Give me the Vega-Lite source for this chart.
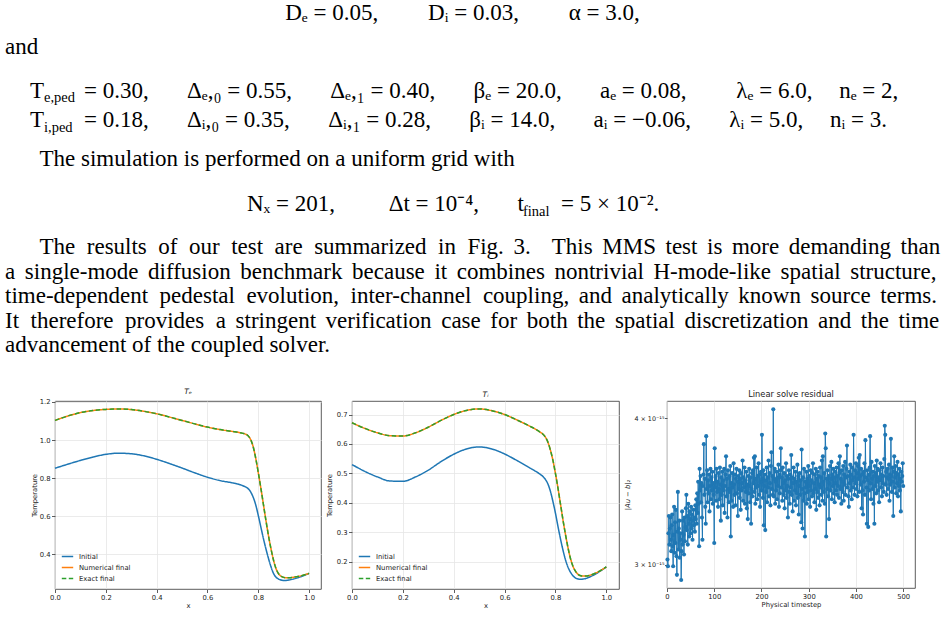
{
  "$schema": "https://vega.github.io/schema/vega-lite/v6.json",
  "padding": 0,
  "background": "white",
  "autosize": {"type": "pad"},
  "config": {
    "font": "DejaVu Sans",
    "view": {"stroke": null},
    "axis": {"labelFont": "DejaVu Sans", "labelFontSize": 6.8, "labelColor": "#222", "titleFont": "DejaVu Sans", "titleFontSize": 6.8, "titleFontWeight": "normal", "titleColor": "#222", "tickColor": "#333", "tickSize": 3.5, "tickWidth": 0.8, "domain": false, "gridColor": "#e6e6e6", "gridWidth": 0.8, "labelPadding": 1.5, "titlePadding": 1.5, "labelFlush": false, "labelOverlap": false},
    "title": {"font": "DejaVu Sans", "fontWeight": "normal", "color": "#222", "offset": 3},
    "legend": {"orient": "bottom-left", "offset": 4, "padding": 2, "labelFont": "DejaVu Sans", "labelFontSize": 6.8, "labelColor": "#222", "symbolType": "stroke", "symbolStrokeWidth": 1.5, "symbolSize": 130, "rowPadding": -1, "labelOffset": 5}
  },
  "vconcat": [
    {
      "width": 947, "height": 40,
      "data": {"values": [{"txt": "Dₑ = 0.05,\u2003\u2003\u2006Dᵢ = 0.03,\u2003\u2003\u2006α = 3.0,"}]},
      "mark": {"type": "text", "font": "Liberation Serif", "fontSize": 23, "align": "center", "baseline": "alphabetic", "color": "#000", "dx": -11},
      "encoding": {"text": {"field": "txt"}}
    },
    {
      "width": 947, "height": 43,
      "data": {"values": [{"txt": "and"}]},
      "mark": {"type": "text", "font": "Liberation Serif", "fontSize": 23, "align": "left", "baseline": "alphabetic", "color": "#000", "dx": 5, "dy": -7.5},
      "encoding": {"x": {"datum": 0, "type": "quantitative", "scale": {"domain": [0, 1]}, "axis": null}, "text": {"field": "txt"}}
    },
    {
      "width": 947, "height": 59,
      "data": {"values": [
        {"ln": 0, "b": "T", "s": "e,ped", "r": "= 0.30,\u2003\u2002\u2006Δₑ,₀ = 0.55,\u2003\u2002\u2006Δₑ,₁ = 0.40,\u2003\u2002\u2006βₑ = 20.0,\u2003\u2002\u2006aₑ = 0.08,\u2003\u2003\u2006λₑ = 6.0,\u2003\u2006nₑ = 2,"},
        {"ln": 1, "b": "T", "s": "i,ped", "r": "= 0.18,\u2003\u2002\u2006Δᵢ,₀ = 0.35,\u2003\u2002\u2006Δᵢ,₁ = 0.28,\u2003\u2002\u2006βᵢ = 14.0,\u2003\u2002\u2006aᵢ = −0.06,\u2003\u2002\u2006λᵢ = 5.0,\u2003\u2006nᵢ = 3."}
      ]},
      "encoding": {"x": {"datum": 0, "type": "quantitative", "scale": {"domain": [0, 1]}, "axis": null}, "y": {"field": "ln", "type": "ordinal", "axis": null}},
      "layer": [
        {
          "mark": {"type": "text", "font": "Liberation Serif", "fontSize": 23, "align": "left", "baseline": "alphabetic", "color": "#000", "dx": 30},
          "encoding": {"text": {"field": "b"}}
        },
        {
          "mark": {"type": "text", "font": "Liberation Serif", "fontSize": 14.5, "align": "left", "baseline": "alphabetic", "color": "#000", "dx": 44, "dy": 4.5},
          "encoding": {"text": {"field": "s"}}
        },
        {
          "mark": {"type": "text", "font": "Liberation Serif", "fontSize": 23, "align": "left", "baseline": "alphabetic", "color": "#000", "dx": 84},
          "encoding": {"text": {"field": "r"}}
        }
      ]
    },
    {
      "width": 947, "height": 46,
      "data": {"values": [{"txt": "\u200D\u2003\u2002The simulation is performed on a uniform grid with"}]},
      "mark": {"type": "text", "font": "Liberation Serif", "fontSize": 23, "align": "left", "baseline": "alphabetic", "color": "#000", "dx": 5, "dy": 1},
      "encoding": {"x": {"datum": 0, "type": "quantitative", "scale": {"domain": [0, 1]}, "axis": null}, "text": {"field": "txt"}}
    },
    {
      "width": 947, "height": 54,
      "data": {"values": [{"a": "Nₓ = 201,\u2003\u2003\u2006\u2006Δt = 10⁻⁴,\u2003\u2002\u2006t", "s": "final", "r": "= 5 × 10⁻²."}]},
      "encoding": {"x": {"datum": 0, "type": "quantitative", "scale": {"domain": [0, 1]}, "axis": null}},
      "layer": [
        {
          "mark": {"type": "text", "font": "Liberation Serif", "fontSize": 23, "align": "left", "baseline": "alphabetic", "color": "#000", "dx": 247, "dy": -4},
          "encoding": {"text": {"field": "a"}}
        },
        {
          "mark": {"type": "text", "font": "Liberation Serif", "fontSize": 14.5, "align": "left", "baseline": "alphabetic", "color": "#000", "dx": 523, "dy": 0.5},
          "encoding": {"text": {"field": "s"}}
        },
        {
          "mark": {"type": "text", "font": "Liberation Serif", "fontSize": 23, "align": "left", "baseline": "alphabetic", "color": "#000", "dx": 561, "dy": -4},
          "encoding": {"text": {"field": "r"}}
        }
      ]
    },
    {
      "width": 947, "height": 122.5,
      "data": {"values": [
        {"ln": 0, "txt": "\u200D\u2003\u2002The\u2002results\u2002of\u2002our\u2002test\u2002are\u2002summarized\u2002in\u2002Fig. \u20063.\u2002 \u2006This \u2006MMS \u2006test \u2006is \u2006more \u2006demanding \u2006than"},
        {"ln": 1, "txt": "a \u2006single-mode \u2006diffusion \u2006benchmark \u2006because \u2006it \u2006combines \u2006nontrivial \u2006H-mode-like \u2006spatial \u2006structure,"},
        {"ln": 2, "txt": "time-dependent\u2002pedestal\u2002evolution,\u2002inter-channel\u2002coupling, \u2006and \u2006analytically \u2006known \u2006source \u2006terms."},
        {"ln": 3, "txt": "It\u2002therefore\u2002provides\u2002a \u2006stringent \u2006verification \u2006case \u2006for \u2006both \u2006the \u2006spatial \u2006discretization \u2006and \u2006the \u2006time"},
        {"ln": 4, "txt": "advancement of the coupled solver."}
      ]},
      "mark": {"type": "text", "font": "Liberation Serif", "fontSize": 23, "align": "left", "baseline": "alphabetic", "color": "#000", "dx": 5},
      "encoding": {"x": {"datum": 0, "type": "quantitative", "scale": {"domain": [0, 1]}, "axis": null}, "y": {"field": "ln", "type": "ordinal", "axis": null}, "text": {"field": "txt"}}
    },
    {
      "width": 947, "height": 35.5,
      "data": {"values": []},
      "mark": "point"
    },
    {
      "spacing": 4,
      "resolve": {"scale": {"color": "independent", "strokeDash": "independent"}, "legend": {"color": "independent", "strokeDash": "independent"}},
      "hconcat": [
        {"width": 27, "height": 10, "data": {"values": []}, "mark": "point"},
        {
          "width": 266, "height": 188,
          "title": {"text": "Tₑ", "fontStyle": "italic", "fontSize": 7.5},
          "view": {"stroke": "#333", "strokeWidth": 0.8},
          "data": {"values": [
            {"x": 0, "Initial": 0.852, "Numerical final": 1.103, "Exact final": 1.103},
            {"x": 0.05, "Initial": 0.873, "Numerical final": 1.126, "Exact final": 1.126},
            {"x": 0.1, "Initial": 0.893, "Numerical final": 1.144, "Exact final": 1.144},
            {"x": 0.15, "Initial": 0.911, "Numerical final": 1.155, "Exact final": 1.155},
            {"x": 0.2, "Initial": 0.925, "Numerical final": 1.161, "Exact final": 1.161},
            {"x": 0.25, "Initial": 0.931, "Numerical final": 1.163, "Exact final": 1.163},
            {"x": 0.3, "Initial": 0.928, "Numerical final": 1.160, "Exact final": 1.160},
            {"x": 0.35, "Initial": 0.917, "Numerical final": 1.151, "Exact final": 1.151},
            {"x": 0.4, "Initial": 0.899, "Numerical final": 1.138, "Exact final": 1.138},
            {"x": 0.45, "Initial": 0.877, "Numerical final": 1.121, "Exact final": 1.121},
            {"x": 0.5, "Initial": 0.853, "Numerical final": 1.103, "Exact final": 1.103},
            {"x": 0.55, "Initial": 0.828, "Numerical final": 1.085, "Exact final": 1.085},
            {"x": 0.6, "Initial": 0.805, "Numerical final": 1.068, "Exact final": 1.068},
            {"x": 0.65, "Initial": 0.787, "Numerical final": 1.055, "Exact final": 1.055},
            {"x": 0.7, "Initial": 0.775, "Numerical final": 1.045, "Exact final": 1.045},
            {"x": 0.72, "Initial": 0.769, "Numerical final": 1.041, "Exact final": 1.041},
            {"x": 0.74, "Initial": 0.760, "Numerical final": 1.035, "Exact final": 1.035},
            {"x": 0.75, "Initial": 0.754, "Numerical final": 1.031, "Exact final": 1.031},
            {"x": 0.76, "Initial": 0.745, "Numerical final": 1.022, "Exact final": 1.022},
            {"x": 0.77, "Initial": 0.728, "Numerical final": 1.003, "Exact final": 1.003},
            {"x": 0.78, "Initial": 0.700, "Numerical final": 0.965, "Exact final": 0.965},
            {"x": 0.79, "Initial": 0.660, "Numerical final": 0.905, "Exact final": 0.905},
            {"x": 0.80, "Initial": 0.605, "Numerical final": 0.830, "Exact final": 0.830},
            {"x": 0.81, "Initial": 0.545, "Numerical final": 0.750, "Exact final": 0.750},
            {"x": 0.82, "Initial": 0.485, "Numerical final": 0.665, "Exact final": 0.665},
            {"x": 0.83, "Initial": 0.430, "Numerical final": 0.580, "Exact final": 0.580},
            {"x": 0.84, "Initial": 0.380, "Numerical final": 0.500, "Exact final": 0.500},
            {"x": 0.85, "Initial": 0.335, "Numerical final": 0.430, "Exact final": 0.430},
            {"x": 0.86, "Initial": 0.300, "Numerical final": 0.370, "Exact final": 0.370},
            {"x": 0.87, "Initial": 0.280, "Numerical final": 0.325, "Exact final": 0.325},
            {"x": 0.88, "Initial": 0.270, "Numerical final": 0.298, "Exact final": 0.298},
            {"x": 0.89, "Initial": 0.265, "Numerical final": 0.285, "Exact final": 0.285},
            {"x": 0.90, "Initial": 0.263, "Numerical final": 0.279, "Exact final": 0.279},
            {"x": 0.91, "Initial": 0.263, "Numerical final": 0.277, "Exact final": 0.277},
            {"x": 0.92, "Initial": 0.265, "Numerical final": 0.277, "Exact final": 0.277},
            {"x": 0.94, "Initial": 0.271, "Numerical final": 0.280, "Exact final": 0.280},
            {"x": 0.96, "Initial": 0.279, "Numerical final": 0.285, "Exact final": 0.285},
            {"x": 0.98, "Initial": 0.289, "Numerical final": 0.292, "Exact final": 0.292},
            {"x": 1.0, "Initial": 0.300, "Numerical final": 0.300, "Exact final": 0.300}
          ]},
          "transform": [{"fold": ["Initial", "Numerical final", "Exact final"], "as": ["series", "v"]}],
          "mark": {"type": "line", "strokeWidth": 1.5, "interpolate": "monotone"},
          "encoding": {
            "x": {"field": "x", "type": "quantitative", "scale": {"domain": [0, 1.047], "nice": false}, "axis": {"values": [0, 0.2, 0.4, 0.6, 0.8, 1.0], "format": ".1f", "title": "x", "grid": true}},
            "y": {"field": "v", "type": "quantitative", "scale": {"domain": [0.218, 1.205], "nice": false, "zero": false}, "axis": {"values": [0.4, 0.6, 0.8, 1.0, 1.2], "format": ".1f", "title": "Temperature", "grid": true}},
            "color": {"field": "series", "type": "nominal", "scale": {"domain": ["Initial", "Numerical final", "Exact final"], "range": ["#1f77b4", "#ff7f0e", "#2ca02c"]}, "legend": {"title": null}},
            "strokeDash": {"field": "series", "type": "nominal", "scale": {"domain": ["Initial", "Numerical final", "Exact final"], "range": [[1, 0], [1, 0], [4.5, 2.5]]}, "legend": {"title": null}}
          }
        },
        {
          "width": 267, "height": 188,
          "title": {"text": "Tᵢ", "fontStyle": "italic", "fontSize": 7.5},
          "view": {"stroke": "#333", "strokeWidth": 0.8},
          "data": {"values": [
            {"x": 0, "Initial": 0.530, "Numerical final": 0.672, "Exact final": 0.672},
            {"x": 0.05, "Initial": 0.507, "Numerical final": 0.653, "Exact final": 0.653},
            {"x": 0.1, "Initial": 0.488, "Numerical final": 0.638, "Exact final": 0.638},
            {"x": 0.15, "Initial": 0.474, "Numerical final": 0.628, "Exact final": 0.628},
            {"x": 0.2, "Initial": 0.473, "Numerical final": 0.627, "Exact final": 0.627},
            {"x": 0.25, "Initial": 0.488, "Numerical final": 0.638, "Exact final": 0.638},
            {"x": 0.3, "Initial": 0.511, "Numerical final": 0.657, "Exact final": 0.657},
            {"x": 0.35, "Initial": 0.540, "Numerical final": 0.680, "Exact final": 0.680},
            {"x": 0.4, "Initial": 0.565, "Numerical final": 0.700, "Exact final": 0.700},
            {"x": 0.45, "Initial": 0.583, "Numerical final": 0.714, "Exact final": 0.714},
            {"x": 0.5, "Initial": 0.590, "Numerical final": 0.719, "Exact final": 0.719},
            {"x": 0.55, "Initial": 0.583, "Numerical final": 0.713, "Exact final": 0.713},
            {"x": 0.6, "Initial": 0.566, "Numerical final": 0.700, "Exact final": 0.700},
            {"x": 0.65, "Initial": 0.543, "Numerical final": 0.681, "Exact final": 0.681},
            {"x": 0.7, "Initial": 0.518, "Numerical final": 0.660, "Exact final": 0.660},
            {"x": 0.72, "Initial": 0.508, "Numerical final": 0.651, "Exact final": 0.651},
            {"x": 0.74, "Initial": 0.497, "Numerical final": 0.640, "Exact final": 0.640},
            {"x": 0.75, "Initial": 0.490, "Numerical final": 0.634, "Exact final": 0.634},
            {"x": 0.76, "Initial": 0.480, "Numerical final": 0.624, "Exact final": 0.624},
            {"x": 0.77, "Initial": 0.465, "Numerical final": 0.607, "Exact final": 0.607},
            {"x": 0.78, "Initial": 0.440, "Numerical final": 0.580, "Exact final": 0.580},
            {"x": 0.79, "Initial": 0.405, "Numerical final": 0.545, "Exact final": 0.545},
            {"x": 0.80, "Initial": 0.365, "Numerical final": 0.500, "Exact final": 0.500},
            {"x": 0.81, "Initial": 0.320, "Numerical final": 0.450, "Exact final": 0.450},
            {"x": 0.82, "Initial": 0.277, "Numerical final": 0.395, "Exact final": 0.395},
            {"x": 0.83, "Initial": 0.238, "Numerical final": 0.340, "Exact final": 0.340},
            {"x": 0.84, "Initial": 0.205, "Numerical final": 0.290, "Exact final": 0.290},
            {"x": 0.85, "Initial": 0.180, "Numerical final": 0.245, "Exact final": 0.245},
            {"x": 0.86, "Initial": 0.163, "Numerical final": 0.208, "Exact final": 0.208},
            {"x": 0.87, "Initial": 0.151, "Numerical final": 0.182, "Exact final": 0.182},
            {"x": 0.88, "Initial": 0.144, "Numerical final": 0.166, "Exact final": 0.166},
            {"x": 0.89, "Initial": 0.141, "Numerical final": 0.156, "Exact final": 0.156},
            {"x": 0.90, "Initial": 0.140, "Numerical final": 0.152, "Exact final": 0.152},
            {"x": 0.91, "Initial": 0.141, "Numerical final": 0.151, "Exact final": 0.151},
            {"x": 0.92, "Initial": 0.143, "Numerical final": 0.151, "Exact final": 0.151},
            {"x": 0.94, "Initial": 0.150, "Numerical final": 0.155, "Exact final": 0.155},
            {"x": 0.96, "Initial": 0.159, "Numerical final": 0.162, "Exact final": 0.162},
            {"x": 0.98, "Initial": 0.170, "Numerical final": 0.171, "Exact final": 0.171},
            {"x": 1.0, "Initial": 0.182, "Numerical final": 0.182, "Exact final": 0.182}
          ]},
          "transform": [{"fold": ["Initial", "Numerical final", "Exact final"], "as": ["series", "v"]}],
          "mark": {"type": "line", "strokeWidth": 1.5, "interpolate": "monotone"},
          "encoding": {
            "x": {"field": "x", "type": "quantitative", "scale": {"domain": [0, 1.05], "nice": false}, "axis": {"values": [0, 0.2, 0.4, 0.6, 0.8, 1.0], "format": ".1f", "title": "x", "grid": true}},
            "y": {"field": "v", "type": "quantitative", "scale": {"domain": [0.107, 0.746], "nice": false, "zero": false}, "axis": {"values": [0.2, 0.3, 0.4, 0.5, 0.6, 0.7], "format": ".1f", "title": "Temperature", "grid": true, "titlePadding": 3.2}},
            "color": {"field": "series", "type": "nominal", "scale": {"domain": ["Initial", "Numerical final", "Exact final"], "range": ["#1f77b4", "#ff7f0e", "#2ca02c"]}, "legend": {"title": null}},
            "strokeDash": {"field": "series", "type": "nominal", "scale": {"domain": ["Initial", "Numerical final", "Exact final"], "range": [[1, 0], [1, 0], [4.5, 2.5]]}, "legend": {"title": null}}
          }
        },
        {
          "width": 248, "height": 187,
          "title": {"text": "Linear solve residual", "fontSize": 8.3},
          "view": {"stroke": "#333", "strokeWidth": 0.8},
          "data": {"values": [
{"t":1,"r":3.03e-15},{"t":2,"r":2.99e-15},{"t":3,"r":3.19e-15},{"t":4,"r":3.30e-15},{"t":5,"r":3.12e-15},{"t":6,"r":3.22e-15},{"t":7,"r":3.29e-15},{"t":8,"r":3.15e-15},{"t":9,"r":3.08e-15},{"t":10,"r":3.24e-15},
{"t":11,"r":3.31e-15},{"t":12,"r":3.11e-15},{"t":13,"r":2.99e-15},{"t":14,"r":3.18e-15},{"t":15,"r":3.36e-15},{"t":16,"r":3.07e-15},{"t":17,"r":3.26e-15},{"t":18,"r":3.13e-15},{"t":19,"r":3.34e-15},{"t":20,"r":3.05e-15},
{"t":21,"r":2.94e-15},{"t":22,"r":3.20e-15},{"t":23,"r":3.46e-15},{"t":24,"r":3.09e-15},{"t":25,"r":3.22e-15},{"t":26,"r":3.27e-15},{"t":27,"r":3.04e-15},{"t":28,"r":3.19e-15},{"t":29,"r":3.15e-15},{"t":30,"r":2.91e-15},
{"t":31,"r":3.08e-15},{"t":32,"r":3.33e-15},{"t":33,"r":3.12e-15},{"t":34,"r":3.27e-15},{"t":35,"r":3.18e-15},{"t":36,"r":3.06e-15},{"t":37,"r":3.29e-15},{"t":38,"r":3.14e-15},{"t":39,"r":3.23e-15},{"t":40,"r":3.35e-15},
{"t":41,"r":3.44e-15},{"t":42,"r":3.21e-15},{"t":43,"r":3.30e-15},{"t":44,"r":3.12e-15},{"t":45,"r":3.38e-15},{"t":46,"r":3.25e-15},{"t":47,"r":3.17e-15},{"t":48,"r":3.33e-15},{"t":49,"r":3.28e-15},{"t":50,"r":3.19e-15},
{"t":51,"r":3.36e-15},{"t":52,"r":3.22e-15},{"t":53,"r":3.31e-15},{"t":54,"r":3.15e-15},{"t":55,"r":3.27e-15},{"t":56,"r":3.34e-15},{"t":57,"r":3.24e-15},{"t":58,"r":3.29e-15},{"t":59,"r":3.20e-15},{"t":60,"r":3.37e-15},
{"t":61,"r":3.28e-15},{"t":62,"r":3.41e-15},{"t":63,"r":3.25e-15},{"t":64,"r":3.45e-15},{"t":65,"r":3.32e-15},{"t":66,"r":3.53e-15},{"t":67,"r":3.38e-15},{"t":68,"r":3.11e-15},{"t":69,"r":3.62e-15},{"t":70,"r":3.47e-15},
{"t":71,"r":3.57e-15},{"t":72,"r":3.39e-15},{"t":73,"r":3.52e-15},{"t":74,"r":3.29e-15},{"t":75,"r":3.15e-15},{"t":76,"r":3.50e-15},{"t":77,"r":3.58e-15},{"t":78,"r":3.80e-15},{"t":79,"r":3.44e-15},{"t":80,"r":3.55e-15},
{"t":81,"r":3.36e-15},{"t":82,"r":3.25e-15},{"t":83,"r":3.86e-15},{"t":84,"r":3.48e-15},{"t":85,"r":3.61e-15},{"t":86,"r":3.39e-15},{"t":87,"r":3.54e-15},{"t":88,"r":3.45e-15},{"t":89,"r":3.58e-15},{"t":90,"r":3.33e-15},
{"t":91,"r":3.50e-15},{"t":92,"r":3.62e-15},{"t":93,"r":3.41e-15},{"t":94,"r":3.56e-15},{"t":95,"r":3.47e-15},{"t":96,"r":3.60e-15},{"t":97,"r":3.38e-15},{"t":98,"r":3.52e-15},{"t":99,"r":3.44e-15},{"t":100,"r":3.13e-15},
{"t":101,"r":3.77e-15},{"t":102,"r":3.49e-15},{"t":103,"r":3.57e-15},{"t":104,"r":3.40e-15},{"t":105,"r":3.62e-15},{"t":106,"r":3.46e-15},{"t":107,"r":3.53e-15},{"t":108,"r":3.36e-15},{"t":109,"r":3.59e-15},{"t":110,"r":3.48e-15},
{"t":111,"r":3.41e-15},{"t":112,"r":3.63e-15},{"t":113,"r":3.51e-15},{"t":114,"r":3.27e-15},{"t":115,"r":3.56e-15},{"t":116,"r":3.44e-15},{"t":117,"r":3.60e-15},{"t":118,"r":3.37e-15},{"t":119,"r":3.54e-15},{"t":120,"r":3.47e-15},
{"t":121,"r":3.62e-15},{"t":122,"r":3.32e-15},{"t":123,"r":3.50e-15},{"t":124,"r":3.58e-15},{"t":125,"r":3.71e-15},{"t":126,"r":3.43e-15},{"t":127,"r":3.55e-15},{"t":128,"r":3.29e-15},{"t":129,"r":3.61e-15},{"t":130,"r":3.48e-15},
{"t":131,"r":3.39e-15},{"t":132,"r":3.57e-15},{"t":133,"r":3.46e-15},{"t":134,"r":3.64e-15},{"t":135,"r":3.17e-15},{"t":136,"r":3.52e-15},{"t":137,"r":3.40e-15},{"t":138,"r":3.59e-15},{"t":139,"r":3.49e-15},{"t":140,"r":3.36e-15},
{"t":141,"r":3.66e-15},{"t":142,"r":3.51e-15},{"t":143,"r":3.44e-15},{"t":144,"r":3.58e-15},{"t":145,"r":3.37e-15},{"t":146,"r":3.55e-15},{"t":147,"r":3.62e-15},{"t":148,"r":3.45e-15},{"t":149,"r":3.53e-15},{"t":150,"r":3.30e-15},
{"t":151,"r":3.57e-15},{"t":152,"r":3.48e-15},{"t":153,"r":3.61e-15},{"t":154,"r":3.42e-15},{"t":155,"r":3.55e-15},{"t":156,"r":3.34e-15},{"t":157,"r":3.59e-15},{"t":158,"r":3.47e-15},{"t":159,"r":3.52e-15},{"t":160,"r":3.68e-15},
{"t":161,"r":3.40e-15},{"t":162,"r":3.56e-15},{"t":163,"r":3.49e-15},{"t":164,"r":3.63e-15},{"t":165,"r":3.38e-15},{"t":166,"r":3.54e-15},{"t":167,"r":3.46e-15},{"t":168,"r":3.60e-15},{"t":169,"r":3.35e-15},{"t":170,"r":3.51e-15},
{"t":171,"r":3.28e-15},{"t":172,"r":3.57e-15},{"t":173,"r":3.45e-15},{"t":174,"r":3.62e-15},{"t":175,"r":3.50e-15},{"t":176,"r":3.39e-15},{"t":177,"r":3.56e-15},{"t":178,"r":3.25e-15},{"t":179,"r":3.48e-15},{"t":180,"r":3.59e-15},
{"t":181,"r":3.43e-15},{"t":182,"r":3.61e-15},{"t":183,"r":3.52e-15},{"t":184,"r":3.70e-15},{"t":185,"r":3.46e-15},{"t":186,"r":3.71e-15},{"t":187,"r":3.38e-15},{"t":188,"r":3.55e-15},{"t":189,"r":3.49e-15},{"t":190,"r":3.63e-15},
{"t":191,"r":3.41e-15},{"t":192,"r":3.57e-15},{"t":193,"r":3.50e-15},{"t":194,"r":3.66e-15},{"t":195,"r":3.44e-15},{"t":196,"r":3.58e-15},{"t":197,"r":3.36e-15},{"t":198,"r":3.53e-15},{"t":199,"r":3.60e-15},{"t":200,"r":3.47e-15},
{"t":201,"r":3.87e-15},{"t":202,"r":3.55e-15},{"t":203,"r":3.42e-15},{"t":204,"r":3.61e-15},{"t":205,"r":3.24e-15},{"t":206,"r":3.50e-15},{"t":207,"r":3.58e-15},{"t":208,"r":3.21e-15},{"t":209,"r":3.54e-15},{"t":210,"r":3.46e-15},
{"t":211,"r":3.63e-15},{"t":212,"r":3.39e-15},{"t":213,"r":3.56e-15},{"t":214,"r":3.49e-15},{"t":215,"r":3.68e-15},{"t":216,"r":3.43e-15},{"t":217,"r":3.59e-15},{"t":218,"r":3.52e-15},{"t":219,"r":3.37e-15},{"t":220,"r":3.64e-15},
{"t":221,"r":3.74e-15},{"t":222,"r":3.48e-15},{"t":223,"r":3.57e-15},{"t":224,"r":3.44e-15},{"t":225,"r":4.07e-15},{"t":226,"r":3.43e-15},{"t":227,"r":3.55e-15},{"t":228,"r":3.62e-15},{"t":229,"r":3.38e-15},{"t":230,"r":3.53e-15},
{"t":231,"r":3.47e-15},{"t":232,"r":3.60e-15},{"t":233,"r":3.41e-15},{"t":234,"r":3.56e-15},{"t":235,"r":3.50e-15},{"t":236,"r":3.65e-15},{"t":237,"r":3.36e-15},{"t":238,"r":3.58e-15},{"t":239,"r":3.45e-15},{"t":240,"r":3.61e-15},
{"t":241,"r":3.77e-15},{"t":242,"r":3.49e-15},{"t":243,"r":3.56e-15},{"t":244,"r":3.40e-15},{"t":245,"r":3.63e-15},{"t":246,"r":3.52e-15},{"t":247,"r":3.44e-15},{"t":248,"r":3.59e-15},{"t":249,"r":3.35e-15},{"t":250,"r":3.54e-15},
{"t":251,"r":3.47e-15},{"t":252,"r":3.66e-15},{"t":253,"r":3.42e-15},{"t":254,"r":3.57e-15},{"t":255,"r":3.50e-15},{"t":256,"r":3.29e-15},{"t":257,"r":3.55e-15},{"t":258,"r":3.61e-15},{"t":259,"r":3.46e-15},{"t":260,"r":3.38e-15},
{"t":261,"r":3.58e-15},{"t":262,"r":3.49e-15},{"t":263,"r":3.72e-15},{"t":264,"r":3.44e-15},{"t":265,"r":3.56e-15},{"t":266,"r":3.33e-15},{"t":267,"r":3.52e-15},{"t":268,"r":3.63e-15},{"t":269,"r":3.40e-15},{"t":270,"r":3.55e-15},
{"t":271,"r":3.47e-15},{"t":272,"r":3.60e-15},{"t":273,"r":3.37e-15},{"t":274,"r":3.53e-15},{"t":275,"r":3.45e-15},{"t":276,"r":3.65e-15},{"t":277,"r":3.42e-15},{"t":278,"r":3.57e-15},{"t":279,"r":3.31e-15},{"t":280,"r":3.50e-15},
{"t":281,"r":3.59e-15},{"t":282,"r":3.44e-15},{"t":283,"r":3.54e-15},{"t":284,"r":3.26e-15},{"t":285,"r":3.76e-15},{"t":286,"r":3.48e-15},{"t":287,"r":3.22e-15},{"t":288,"r":3.56e-15},{"t":289,"r":3.40e-15},{"t":290,"r":3.62e-15},
{"t":291,"r":3.45e-15},{"t":292,"r":3.17e-15},{"t":293,"r":3.53e-15},{"t":294,"r":3.49e-15},{"t":295,"r":3.60e-15},{"t":296,"r":3.38e-15},{"t":297,"r":3.55e-15},{"t":298,"r":3.46e-15},{"t":299,"r":3.64e-15},{"t":300,"r":3.41e-15},
{"t":301,"r":3.57e-15},{"t":302,"r":3.50e-15},{"t":303,"r":3.36e-15},{"t":304,"r":3.61e-15},{"t":305,"r":3.47e-15},{"t":306,"r":3.54e-15},{"t":307,"r":3.43e-15},{"t":308,"r":3.59e-15},{"t":309,"r":3.66e-15},{"t":310,"r":3.45e-15},
{"t":311,"r":3.52e-15},{"t":312,"r":3.39e-15},{"t":313,"r":3.58e-15},{"t":314,"r":3.48e-15},{"t":315,"r":3.62e-15},{"t":316,"r":3.34e-15},{"t":317,"r":3.55e-15},{"t":318,"r":3.46e-15},{"t":319,"r":3.60e-15},{"t":320,"r":3.42e-15},
{"t":321,"r":3.57e-15},{"t":322,"r":3.51e-15},{"t":323,"r":3.37e-15},{"t":324,"r":3.63e-15},{"t":325,"r":3.49e-15},{"t":326,"r":3.56e-15},{"t":327,"r":3.44e-15},{"t":328,"r":3.68e-15},{"t":329,"r":3.40e-15},{"t":330,"r":3.71e-15},
{"t":331,"r":3.53e-15},{"t":332,"r":3.46e-15},{"t":333,"r":3.59e-15},{"t":334,"r":3.38e-15},{"t":335,"r":3.88e-15},{"t":336,"r":3.77e-15},{"t":337,"r":3.17e-15},{"t":338,"r":3.55e-15},{"t":339,"r":3.48e-15},{"t":340,"r":3.61e-15},
{"t":341,"r":3.43e-15},{"t":342,"r":3.57e-15},{"t":343,"r":3.28e-15},{"t":344,"r":3.52e-15},{"t":345,"r":3.64e-15},{"t":346,"r":3.47e-15},{"t":347,"r":3.55e-15},{"t":348,"r":3.67e-15},{"t":349,"r":3.41e-15},{"t":350,"r":3.58e-15},
{"t":351,"r":3.50e-15},{"t":352,"r":3.62e-15},{"t":353,"r":3.45e-15},{"t":354,"r":3.56e-15},{"t":355,"r":3.39e-15},{"t":356,"r":3.60e-15},{"t":357,"r":3.52e-15},{"t":358,"r":3.47e-15},{"t":359,"r":3.63e-15},{"t":360,"r":3.44e-15},
{"t":361,"r":3.57e-15},{"t":362,"r":3.50e-15},{"t":363,"r":3.66e-15},{"t":364,"r":3.42e-15},{"t":365,"r":3.59e-15},{"t":366,"r":3.71e-15},{"t":367,"r":3.48e-15},{"t":368,"r":3.55e-15},{"t":369,"r":3.38e-15},{"t":370,"r":3.61e-15},
{"t":371,"r":3.53e-15},{"t":372,"r":3.46e-15},{"t":373,"r":3.64e-15},{"t":374,"r":3.40e-15},{"t":375,"r":3.58e-15},{"t":376,"r":3.51e-15},{"t":377,"r":3.67e-15},{"t":378,"r":3.44e-15},{"t":379,"r":3.56e-15},{"t":380,"r":3.62e-15},
{"t":381,"r":3.79e-15},{"t":382,"r":3.49e-15},{"t":383,"r":3.57e-15},{"t":384,"r":3.43e-15},{"t":385,"r":3.36e-15},{"t":386,"r":3.60e-15},{"t":387,"r":3.52e-15},{"t":388,"r":3.65e-15},{"t":389,"r":3.47e-15},{"t":390,"r":3.58e-15},
{"t":391,"r":3.41e-15},{"t":392,"r":3.63e-15},{"t":393,"r":3.54e-15},{"t":394,"r":3.49e-15},{"t":395,"r":3.87e-15},{"t":396,"r":3.56e-15},{"t":397,"r":3.44e-15},{"t":398,"r":3.61e-15},{"t":399,"r":3.52e-15},{"t":400,"r":3.66e-15},
{"t":401,"r":3.48e-15},{"t":402,"r":3.59e-15},{"t":403,"r":3.43e-15},{"t":404,"r":3.64e-15},{"t":405,"r":3.55e-15},{"t":406,"r":3.70e-15},{"t":407,"r":3.46e-15},{"t":408,"r":3.72e-15},{"t":409,"r":3.57e-15},{"t":410,"r":3.51e-15},
{"t":411,"r":3.62e-15},{"t":412,"r":3.35e-15},{"t":413,"r":3.58e-15},{"t":414,"r":3.47e-15},{"t":415,"r":3.31e-15},{"t":416,"r":3.60e-15},{"t":417,"r":3.53e-15},{"t":418,"r":3.66e-15},{"t":419,"r":3.44e-15},{"t":420,"r":3.83e-15},
{"t":421,"r":3.56e-15},{"t":422,"r":3.49e-15},{"t":423,"r":3.25e-15},{"t":424,"r":3.61e-15},{"t":425,"r":3.54e-15},{"t":426,"r":3.23e-15},{"t":427,"r":3.58e-15},{"t":428,"r":3.47e-15},{"t":429,"r":3.63e-15},{"t":430,"r":3.86e-15},
{"t":431,"r":3.52e-15},{"t":432,"r":3.41e-15},{"t":433,"r":3.67e-15},{"t":434,"r":3.55e-15},{"t":435,"r":3.48e-15},{"t":436,"r":3.60e-15},{"t":437,"r":3.38e-15},{"t":438,"r":3.57e-15},{"t":439,"r":3.25e-15},{"t":440,"r":3.64e-15},
{"t":441,"r":3.50e-15},{"t":442,"r":3.59e-15},{"t":443,"r":3.45e-15},{"t":444,"r":3.68e-15},{"t":445,"r":3.53e-15},{"t":446,"r":3.62e-15},{"t":447,"r":3.47e-15},{"t":448,"r":3.56e-15},{"t":449,"r":3.39e-15},{"t":450,"r":3.61e-15},
{"t":451,"r":3.54e-15},{"t":452,"r":3.66e-15},{"t":453,"r":3.49e-15},{"t":454,"r":3.58e-15},{"t":455,"r":3.43e-15},{"t":456,"r":3.63e-15},{"t":457,"r":3.52e-15},{"t":458,"r":3.57e-15},{"t":459,"r":3.46e-15},{"t":460,"r":3.69e-15},
{"t":461,"r":3.94e-15},{"t":462,"r":3.87e-15},{"t":463,"r":3.51e-15},{"t":464,"r":3.60e-15},{"t":465,"r":3.44e-15},{"t":466,"r":3.56e-15},{"t":467,"r":3.62e-15},{"t":468,"r":3.48e-15},{"t":469,"r":3.55e-15},{"t":470,"r":3.65e-15},
{"t":471,"r":3.40e-15},{"t":472,"r":3.58e-15},{"t":473,"r":3.51e-15},{"t":474,"r":3.84e-15},{"t":475,"r":3.57e-15},{"t":476,"r":3.46e-15},{"t":477,"r":3.63e-15},{"t":478,"r":3.53e-15},{"t":479,"r":3.30e-15},{"t":480,"r":3.60e-15},
{"t":481,"r":3.71e-15},{"t":482,"r":3.49e-15},{"t":483,"r":3.56e-15},{"t":484,"r":3.64e-15},{"t":485,"r":3.45e-15},{"t":486,"r":3.59e-15},{"t":487,"r":3.52e-15},{"t":488,"r":3.67e-15},{"t":489,"r":3.43e-15},{"t":490,"r":3.58e-15},
{"t":491,"r":3.50e-15},{"t":492,"r":3.62e-15},{"t":493,"r":3.47e-15},{"t":494,"r":3.55e-15},{"t":495,"r":3.33e-15},{"t":496,"r":3.60e-15},{"t":497,"r":3.53e-15},{"t":498,"r":3.57e-15},{"t":499,"r":3.66e-15},{"t":500,"r":3.50e-15}
          ]},
          "encoding": {
            "x": {"field": "t", "type": "quantitative", "scale": {"domain": [0, 525], "nice": false}, "axis": {"values": [0, 100, 200, 300, 400, 500], "format": "d", "title": "Physical timestep", "grid": true}},
            "y": {"field": "r", "type": "quantitative", "scale": {"type": "log", "domain": [2.865e-15, 4.136e-15], "nice": false}, "axis": {"values": [3e-15, 4e-15], "labelExpr": "format(datum.value * 1e15, '.0f') + ' × 10⁻¹⁵'", "title": "|Au − b|₂", "titleFontStyle": "italic", "grid": false, "tickSize": 2.5, "labelPadding": 0.5, "titlePadding": 3, "labelFontSize": 6.4}}
          },
          "layer": [
            {"mark": {"type": "line", "color": "#1f77b4", "strokeWidth": 1}},
            {"mark": {"type": "point", "filled": true, "color": "#1f77b4", "size": 17, "opacity": 1}}
          ]
        }
      ]
    }
  ],
  "spacing": 0,
  "bounds": "flush"
}
